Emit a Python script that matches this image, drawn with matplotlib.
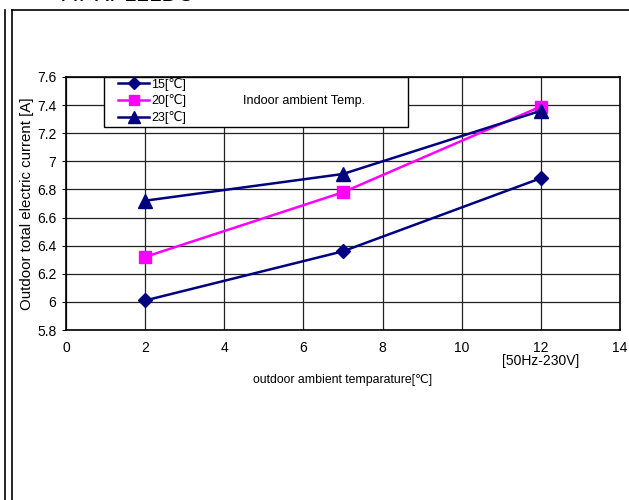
import matplotlib.pyplot as plt
from matplotlib.patches import Rectangle
from matplotlib.lines import Line2D

plt.rcParams['font.family'] = ['Liberation Sans', 'DejaVu Sans']

# data
outdoor_temp = [2, 7, 12]
current_15 = [6.01, 6.36, 6.88]
current_20 = [6.32, 6.78, 7.39]
current_23 = [6.72, 6.91, 7.36]
series_labels = ['15[℃]', '20[℃]', '23[℃]']
x_ticks = [0, 2, 4, 6, 8, 10, 12, 14]
y_ticks = [5.8, 6, 6.2, 6.4, 6.6, 6.8, 7, 7.2, 7.4, 7.6]
y_ticklabels = ['5.8', '6', '6.2', '6.4', '6.6', '6.8', '7', '7.2', '7.4', '7.6']

navy = '#000080'
magenta = '#FF00FF'

fig = plt.figure(figsize=(6.29, 5.0), dpi=100)
ax = fig.add_axes([66 / 629, 1 - 330 / 500, 554 / 629, 253 / 500])

ax.plot(outdoor_temp, current_15, color=navy, lw=1.8, marker='D', ms=7.5, label=series_labels[0], zorder=3)
ax.plot(outdoor_temp, current_20, color=magenta, lw=1.8, marker='s', ms=8.5, label=series_labels[1], zorder=3)
ax.plot(outdoor_temp, current_23, color=navy, lw=1.8, marker='^', ms=9.5, label=series_labels[2], zorder=4)

ax.set_xlim(0, 14)
ax.set_ylim(5.8, 7.6)
ax.set_xticks(x_ticks)
ax.set_yticks(y_ticks)
ax.set_yticklabels(y_ticklabels)
ax.tick_params(axis='x', length=0, pad=8, labelsize=10)
ax.tick_params(axis='y', length=3, direction='out', labelsize=10, pad=4)
ax.grid(True, color='#222222', lw=0.9)
ax.set_axisbelow(True)
for s in ax.spines.values():
    s.set_linewidth(1.2)

ax.set_ylabel('Outdoor total electric current [A]', fontsize=10.8, labelpad=2)
ax.set_xlabel('outdoor ambient temparature[℃]', fontsize=8.8, labelpad=13.5)
ax.text(12, 5.577, '[50Hz-230V]', ha='center', va='center', fontsize=10)

# legend box
box = Rectangle((0.0686, 0.802), 0.5485, 0.198, transform=ax.transAxes,
                facecolor='white', edgecolor='black', lw=1, zorder=5)
ax.add_patch(box)
leg = ax.legend(loc='upper left', bbox_to_anchor=(0.094, 0.998), frameon=False,
                fontsize=9, handlelength=2.5, handletextpad=0.15,
                labelspacing=0.3, borderaxespad=0, borderpad=0, markerscale=0.85)
leg.set_zorder(6)
ax.text(0.43, 0.905, 'Indoor ambient Temp.', transform=ax.transAxes,
        ha='center', va='center', fontsize=9.1, zorder=6)

# page frame around the chart
fig.add_artist(Line2D([5 / 629, 5 / 629], [0, 1 - 10 / 500], color='black', lw=1.2))
fig.add_artist(Line2D([12 / 629, 12 / 629], [0, 1 - 10 / 500], color='black', lw=1.2))
fig.add_artist(Line2D([12 / 629, 1], [1 - 10 / 500, 1 - 10 / 500], color='black', lw=1.2))
fig.text(62 / 629, 1 - 1 / 500, 'AY-XP12LDC', fontsize=16, ha='left', va='baseline')

fig.savefig('out.png', dpi=100)
